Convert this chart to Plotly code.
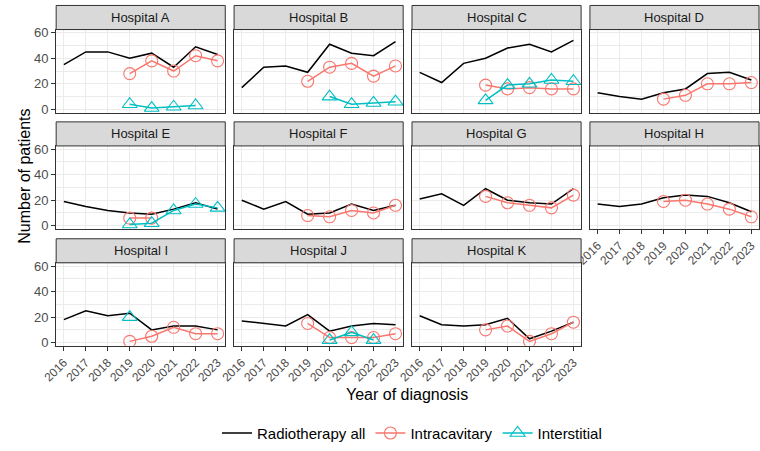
import plotly.graph_objects as go

years = [2016, 2017, 2018, 2019, 2020, 2021, 2022, 2023]
sub_years = [2019, 2020, 2021, 2022, 2023]
hospitals = ["Hospital A", "Hospital B", "Hospital C", "Hospital D",
             "Hospital E", "Hospital F", "Hospital G", "Hospital H",
             "Hospital I", "Hospital J", "Hospital K"]

radiotherapy_all = [
    [35, 45, 45, 40, 44, 33, 49, 43],
    [17, 33, 34, 29, 51, 44, 42, 53],
    [29, 21, 36, 40, 48, 51, 45, 54],
    [13, 10, 8, 13, 16, 28, 29, 23],
    [19, 15, 12, 10, 9, 13, 18, 13],
    [20, 13, 19, 9, 10, 17, 12, 16],
    [21, 25, 16, 29, 20, 18, 17, 29],
    [17, 15, 17, 22, 24, 23, 18, 11],
    [18, 25, 21, 23, 10, 13, 13, 10],
    [17, 15, 13, 22, 9, 13, 15, 14],
    [21, 14, 13, 14, 19, 3, 9, 16],
]
intracavitary = [
    [28, 38, 30, 42, 38],
    [22, 33, 36, 26, 34],
    [19, 16, 17, 16, 16],
    [8, 11, 20, 20, 21],
    [6, 6, None, None, None],
    [8, 7, 12, 10, 16],
    [23, 18, 16, 14, 24],
    [19, 20, 17, 13, 7],
    [1, 5, 12, 7, 7],
    [15, 4, 4, 4, 7],
    [10, 13, 1, 7, 16],
]
interstitial = [
    [4, 1, 2, 3, None],
    [None, 10, 4, 5, 6],
    [7, 19, 20, 23, 22],
    [None] * 5,
    [1, 2, 12, 17, 14],
    [None] * 5,
    [None] * 5,
    [None] * 5,
    [20, None, None, None, None],
    [None, 2, 8, 2, None],
    [None] * 5,
]

W, H = 760, 451
FONT = "Liberation Sans, Arial, sans-serif"
RED = "#F8766D"
CYAN = "#00BFC4"
BORDER = "#333333"
GRID = "#EBEBEB"

col_x = [(42, 214.5), (223.5, 396), (405, 577.5), (586.5, 759)]
row_y = [(1.5, 26, 110.5), (120, 144.5, 229), (239, 263.5, 348)]  # strip top, plot top, plot bottom

fig = go.Figure()
shapes = []
annotations = []
shown = set()

for i, name in enumerate(hospitals):
    r, c = divmod(i, 4)
    k = i + 1
    xa = "x" if k == 1 else f"x{k}"
    ya = "y" if k == 1 else f"y{k}"
    x0, x1 = col_x[c]
    st, pt, pb = row_y[r]
    bottom = (r == 2) or (r == 1 and c == 3)
    left = (c == 0)

    fig.add_trace(go.Scatter(
        x=years, y=radiotherapy_all[i], mode="lines", name="Radiotherapy all",
        line=dict(color="black", width=1.5), xaxis=xa, yaxis=ya,
        legendgroup="all", showlegend="all" not in shown))
    shown.add("all")
    fig.add_trace(go.Scatter(
        x=sub_years, y=intracavitary[i], mode="lines+markers", name="Intracavitary",
        line=dict(color=RED, width=1.5),
        marker=dict(symbol="circle-open", size=12, color=RED, line=dict(width=1.1)),
        xaxis=xa, yaxis=ya, legendgroup="intra", showlegend="intra" not in shown))
    shown.add("intra")
    if any(v is not None for v in interstitial[i]):
        fig.add_trace(go.Scatter(
            x=sub_years, y=interstitial[i], mode="lines+markers", name="Interstitial",
            line=dict(color=CYAN, width=1.5),
            marker=dict(symbol="triangle-up-open", size=13, color=CYAN, line=dict(width=1.1)),
            xaxis=xa, yaxis=ya, legendgroup="inter", showlegend="inter" not in shown))
        shown.add("inter")

    xdom = [x0 / W, x1 / W]
    ydom = [1 - pb / H, 1 - pt / H]
    fig.update_layout(**{
        ("xaxis" if k == 1 else f"xaxis{k}"): dict(
            domain=xdom, anchor=ya, range=[2015.65, 2023.35],
            tickmode="array", tickvals=years, ticktext=[str(y) for y in years],
            showticklabels=bottom, ticks="outside" if bottom else "",
            ticklen=4, tickcolor=BORDER, tickwidth=1, tickangle=-45,
            tickfont=dict(family=FONT, size=12, color="#4D4D4D"),
            showgrid=True, gridcolor=GRID, gridwidth=1, zeroline=False,
            showline=True, mirror=True, linecolor=BORDER, linewidth=1),
        ("yaxis" if k == 1 else f"yaxis{k}"): dict(
            domain=ydom, anchor=xa, range=[-2.5, 62.5],
            tickmode="array", tickvals=[0, 20, 40, 60],
            showticklabels=left, ticks="outside" if left else "",
            ticklen=4, tickcolor=BORDER, tickwidth=1,
            tickfont=dict(family=FONT, size=13, color="#4D4D4D"),
            showgrid=True, gridcolor=GRID, gridwidth=1, zeroline=False,
            minor=dict(tickvals=[10, 30, 50], showgrid=True, gridcolor=GRID, gridwidth=0.6),
            showline=True, mirror=True, linecolor=BORDER, linewidth=1),
    })
    shapes.append(dict(type="rect", xref="paper", yref="paper",
                       x0=x0 / W, x1=x1 / W, y0=1 - pt / H, y1=1 - st / H,
                       fillcolor="#D9D9D9", line=dict(color=BORDER, width=1), layer="above"))
    annotations.append(dict(text=name, xref="paper", yref="paper",
                            x=(x0 + x1) / 2 / W, y=1 - (st + pt) / 2 / H,
                            xanchor="center", yanchor="middle", showarrow=False,
                            font=dict(family=FONT, size=13, color="#1A1A1A")))

annotations.append(dict(text="Number of patients", xref="paper", yref="paper",
                        x=10 / W, y=1 - 175 / H, textangle=-90, showarrow=False,
                        xanchor="center", yanchor="middle",
                        font=dict(family=FONT, size=16, color="black")))
annotations.append(dict(text="Year of diagnosis", xref="paper", yref="paper",
                        x=400 / W, y=1 - 398 / H, showarrow=False,
                        xanchor="center", yanchor="middle",
                        font=dict(family=FONT, size=16, color="black")))

fig.update_layout(
    width=W, height=H, margin=dict(l=0, r=0, t=0, b=0),
    paper_bgcolor="white", plot_bgcolor="white",
    shapes=shapes, annotations=annotations,
    legend=dict(orientation="h", x=405 / W, y=1 - 437 / H, xanchor="center", yanchor="middle",
                font=dict(family=FONT, size=15, color="black"), bgcolor="rgba(0,0,0,0)",
                traceorder="normal"),
    font=dict(family=FONT),
)

fig.write_html("out.html")
